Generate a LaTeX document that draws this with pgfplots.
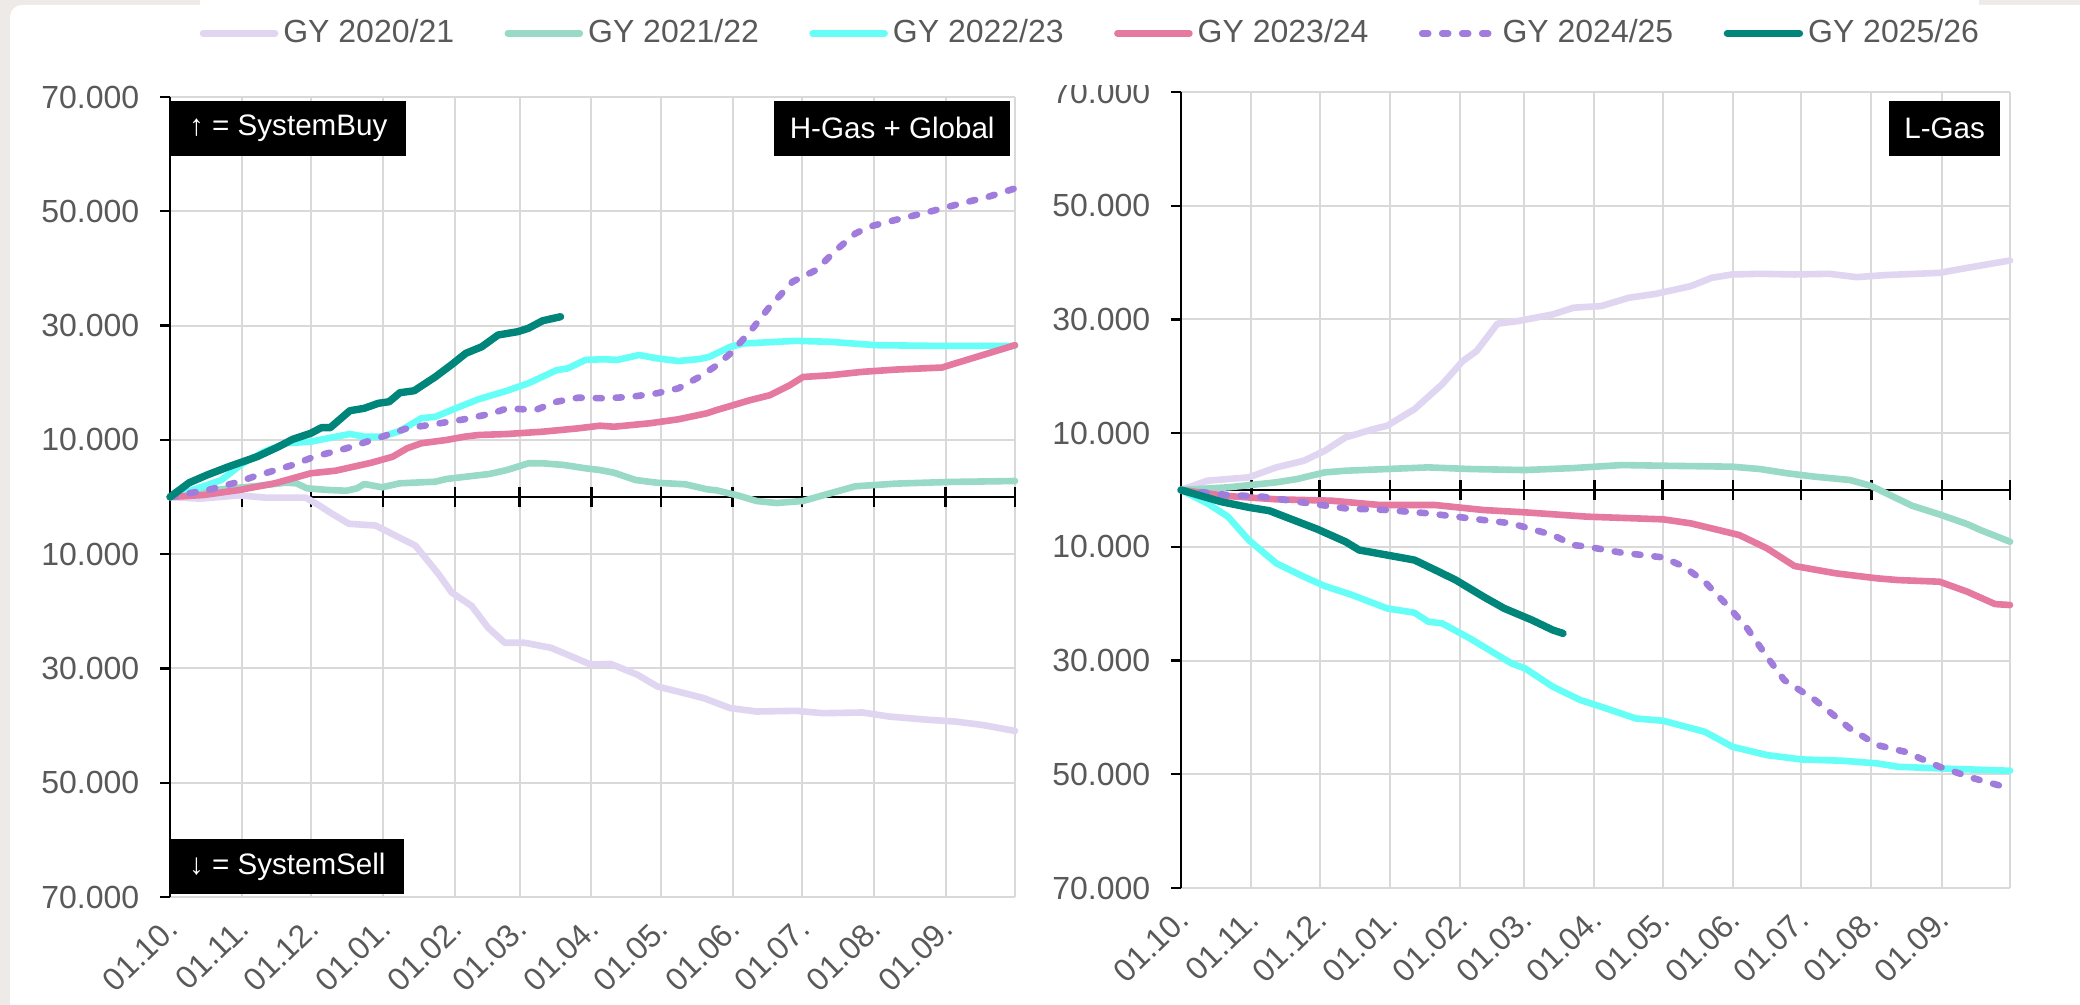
\documentclass[border=0pt]{standalone}
\usepackage{fontspec}
\setmainfont{Liberation Sans}
\usepackage{pgfplots}
\pgfplotsset{compat=1.18}
\definecolor{bggray}{HTML}{EDEAE7}
\definecolor{gridgray}{HTML}{D9D9D9}
\definecolor{labelgray}{HTML}{595959}
\definecolor{lav}{HTML}{E0D6F1}
\definecolor{mint}{HTML}{99DAC7}
\definecolor{cyanl}{HTML}{66FFF7}
\definecolor{pinkl}{HTML}{E6799F}
\definecolor{purp}{HTML}{A07CDC}
\definecolor{tealg}{HTML}{00857A}

\tikzset{
  s1/.style={lav, line width=1.65pt, line join=round, line cap=round},
  s2/.style={mint, line width=1.65pt, line join=round, line cap=round},
  s3/.style={cyanl, line width=1.65pt, line join=round, line cap=round},
  s4/.style={pinkl, line width=1.65pt, line join=round, line cap=round},
  s5/.style={purp, line width=1.65pt, line join=round, line cap=round, dash pattern=on 1.5pt off 3.5pt},
  s6/.style={tealg, line width=1.85pt, line join=round, line cap=round},
  boxtext/.style={fill=black, text=white, inner sep=0pt, minimum height=13.75pt, font=\fontsize{7.4}{9}\selectfont},
  axl/.style={black, line width=0.6pt},
}

\pgfplotsset{
  panel/.style={
    scale only axis, anchor=south west,
    xmin=0, xmax=365, ymin=-70000, ymax=70000,
    xtick={0,31,61,92,123,151,182,212,243,273,304,335},
    xticklabels={01.10.,01.11.,01.12.,01.01.,01.02.,01.03.,01.04.,01.05.,01.06.,01.07.,01.08.,01.09.},
    extra x ticks={365}, extra x tick labels={}, extra x tick style={grid=major},
    ytick={-70000,-50000,-30000,-10000,10000,30000,50000,70000},
    yticklabels={70.000,50.000,30.000,10.000,10.000,30.000,50.000,70.000},
    scaled y ticks=false,
    grid=major, major grid style={draw=gridgray, line width=0.5pt},
    axis line style={draw=none},
    major tick length=0pt,
    tick style={draw=none},
    ticklabel style={font=\fontsize{8}{9.6}\selectfont, text=labelgray},
    yticklabel style={anchor=east, inner sep=0pt, xshift=-7.5pt},
    xticklabel style={inner sep=0pt, xshift=0.6pt, yshift=-6.5pt, rotate=44, anchor=east},
    clip=false,
  },
}

\newcommand{\axislines}{%
  \draw[axl] (axis cs:0,-70000) -- (axis cs:0,70000);
  \draw[axl] (axis cs:0,0) -- (axis cs:365,0);
  \pgfplotsinvokeforeach{31,61,92,123,151,182,212,243,273,304,335,365}{
    \draw[axl] (axis cs:##1,0) ++(0pt,-2.4pt) -- ++(0pt,4.8pt);}
  \pgfplotsinvokeforeach{-70000,-50000,-30000,-10000,10000,30000,50000,70000}{
    \draw[axl] (axis cs:0,##1) -- ++(-2.5pt,0pt);}
}

\begin{document}
\begin{tikzpicture}
\fill[bggray] (0,0) rectangle (520pt,251.25pt);
\useasboundingbox (0,0) rectangle (520pt,251.25pt);
\fill[white, rounded corners=3pt] (2.5pt,-10pt) rectangle (530pt,250pt);

% ---------------- left panel: H-Gas + Global
\begin{axis}[panel, at={(42.5pt,27pt)}, width=211.25pt, height=200pt]
\axislines
\addplot[s1] table {
0 0
13 -290
30 290
41.5 -120
58.7 -120
64.4 -1470
70 -2930
77.3 -4690
88.8 -4990
98.8 -7040
106 -8500
116 -13490
121.7 -16720
130.3 -19060
137.4 -22870
144.6 -25510
153.2 -25510
164.6 -26390
173.2 -27860
181.8 -29330
190.4 -29210
201.8 -31080
210.4 -33140
221.9 -34310
230.5 -35190
242 -36950
253.4 -37540
270.5 -37420
282 -37830
299.2 -37710
310.6 -38420
327.8 -39000
339.3 -39300
350.7 -39880
365 -40940
};
\addplot[s2] table {
0 0
9.9 650
22.2 1350
37.6 1925
50 2500
54.6 2400
59.2 1520
68.5 1225
76.2 1100
80.8 1520
83.9 2275
91.6 1700
99.3 2400
114.7 2680
119.3 3150
137.9 4025
145.6 4725
154.8 5900
161 5900
170.2 5600
179.5 5020
185.7 4725
191.8 4250
201.1 2975
210.3 2500
222.7 2220
231.9 1350
236 1170
245 300
253.4 -700
262 -1050
273.4 -700
282 290
296 1870
313.5 2340
336.4 2630
365 2800
};
\addplot[s3] table {
0 0
9.9 1225
22.2 2975
31.5 5900
40.7 7930
50 9400
60.8 9680
71.5 10550
77.7 11025
84 10550
91.6 10550
99.3 11550
108.5 13770
114.7 14050
122.4 15350
133.2 17100
145.6 18600
154.8 19900
167 22200
171.8 22500
179.5 24000
187.2 24100
193.4 24000
202.6 24850
210.3 24270
219.6 23800
228.8 24150
233 24530
242 26280
247.6 26860
270.5 27330
284.9 27160
305 26570
327.8 26460
365 26460
};
\addplot[s4] table {
0 0
14.5 350
29.9 1225
45.3 2400
60.8 4150
71.5 4600
87 6000
96.2 7050
102.4 8520
108.5 9400
119.3 9975
127.1 10550
133.2 10850
145.6 11025
161 11430
176.4 12020
185.7 12480
191.8 12300
207.2 12900
219.6 13600
231.9 14650
236 15200
250.5 16940
259 17800
267.7 19560
273.4 21000
285 21300
299 21900
313.5 22300
333.5 22660
339 23360
350.7 24800
365 26570
};
\addplot[s5] table {
0 0
8.3 650
17.6 1350
29.9 2680
36.1 3550
53 5600
62.3 7050
76.2 8520
91.6 10550
102.4 12020
114.7 12780
127.1 13600
139.4 14650
145.6 15520
157.9 15230
167.1 16680
176.4 17380
188.7 17270
199.5 17550
210.3 18150
219.6 19020
228.8 21050
236 23000
242 25100
250.5 28900
259 33300
269 37700
279 39700
287.7 43200
296 46100
302 47300
313.5 48500
327.8 49900
342 51400
353.6 52560
365 54000
};
\addplot[s6] table {
0 0
8.3 2500
16 3850
25.3 5300
37.6 7050
46.9 8800
53 10100
60.8 11150
65.4 12130
69.2 12130
77.7 15100
83.9 15520
90 16400
94.7 16680
99.3 18250
105.5 18600
114.7 21050
122.4 23400
127.8 25150
134.7 26300
141.7 28350
150.2 28930
154.8 29520
161 30850
168.7 31550
};
\node[boxtext, minimum width=58.75pt, anchor=north west, yshift=-0.75pt] at (rel axis cs:0,1) {↑ = SystemBuy};
\node[boxtext, minimum width=59pt, anchor=north east, yshift=-0.75pt, xshift=-1pt] at (rel axis cs:1,1) {H-Gas + Global};
\node[boxtext, minimum width=58.25pt, anchor=south west, yshift=0.5pt] at (rel axis cs:0,0) {↓ = SystemSell};
\end{axis}

% ---------------- right panel: L-Gas
\begin{axis}[panel, at={(295.25pt,29.25pt)}, width=207.25pt, height=199pt,
  legend image code/.code={\draw[#1] (0pt,0pt) -- (18pt,0pt);},
  legend style={at={(-1.1846,1.00754)}, anchor=south west, legend columns=6,
    draw=none, fill=white, inner xsep=0pt, inner ysep=9.3pt,
    font=\fontsize{8}{9.6}\selectfont, text=labelgray,
    nodes={inner sep=0pt},
    /tikz/every odd column/.append style={column sep=1.25pt},
    /tikz/every even column/.append style={column sep=12.6pt}},
  legend cell align=left]
\axislines
\addplot[s1, forget plot] table {
0 0
11.6 1640
29.8 2220
42 3980
54.1 5150
63.3 6900
72.4 9240
84.6 10700
90.7 11290
102.8 14220
115 18600
124.1 22700
130.2 24450
139.3 29250
148.4 29720
163.7 30890
172.8 32060
185 32350
197.1 33810
209.3 34520
224.5 35860
233.6 37320
242.8 37910
254.9 38030
270.1 37910
285.3 38030
297.5 37440
309.7 37790
334 38200
346.2 39080
365 40370
};
\addplot[s2, forget plot] table {
0 0
20.7 470
42 1350
51.1 1930
63.3 3100
72.4 3390
90.7 3690
108.9 3980
127.2 3690
151.5 3510
172.8 3860
194.1 4390
212.3 4270
242.8 4100
254.9 3690
267.1 2930
279.2 2340
294.5 1760
303.6 760
312.7 -1000
321.8 -2750
334 -4300
346.2 -6000
352 -7040
365 -9090
};
\addplot[s3, forget plot] table {
0 0
11.6 -2350
20.7 -4690
29.8 -8800
42 -12900
54.1 -15250
63.3 -16890
75.4 -18470
90.7 -20820
102.8 -21580
108.9 -23170
115 -23460
127.2 -26100
145.5 -30500
151.5 -31380
163.7 -34600
175.9 -36950
185 -38120
200.2 -40180
212.3 -40590
230.6 -42520
242.8 -45160
258 -46630
273.2 -47390
291.4 -47620
306.6 -48090
315.7 -48680
334 -48970
365 -49380
};
\addplot[s4, forget plot] table {
0 0
20.7 -1060
42 -1640
66.3 -1880
87.6 -2640
111.9 -2640
133.2 -3520
151.5 -3930
178.9 -4690
212.3 -5160
224.5 -5870
245.8 -7920
258 -10260
270.1 -13370
288.4 -14660
306.6 -15540
315.7 -15840
334 -16130
346.2 -17890
358.4 -20060
365 -20230
};
\addplot[s5, forget plot] table {
0 0
20.7 -880
35.9 -1170
51.1 -2050
72.4 -3230
90.7 -3520
108.9 -4100
127.2 -4990
145.5 -5870
163.7 -7920
172.8 -9680
178.9 -9970
194.1 -11030
212.3 -11850
221.4 -13490
230.6 -16130
239.7 -19940
248.8 -24050
258 -29330
265.6 -33430
279.2 -36950
294.5 -41930
306.6 -44870
318.8 -46040
334 -48680
349.2 -50730
365 -52490
};
\addplot[s6, forget plot] table {
0 0
17.6 -2050
29.8 -3050
38.9 -3640
60.2 -6920
72.4 -9090
78.5 -10560
90.7 -11440
102.8 -12320
112 -14080
121 -15840
133.2 -18770
142.3 -20820
154.5 -22870
163.7 -24630
168.2 -25220
};
\node[boxtext, minimum width=27.75pt, anchor=north east, yshift=-2pt, xshift=-2.25pt] at (rel axis cs:1,1) {L-Gas};
\addlegendimage{s1}\addlegendentry{GY 2020/21}
\addlegendimage{s2}\addlegendentry{GY 2021/22}
\addlegendimage{s3}\addlegendentry{GY 2022/23}
\addlegendimage{s4}\addlegendentry{GY 2023/24}
\addlegendimage{s5}\addlegendentry{GY 2024/25}
\addlegendimage{s6}\addlegendentry{GY 2025/26}
\end{axis}
\end{tikzpicture}
\end{document}
